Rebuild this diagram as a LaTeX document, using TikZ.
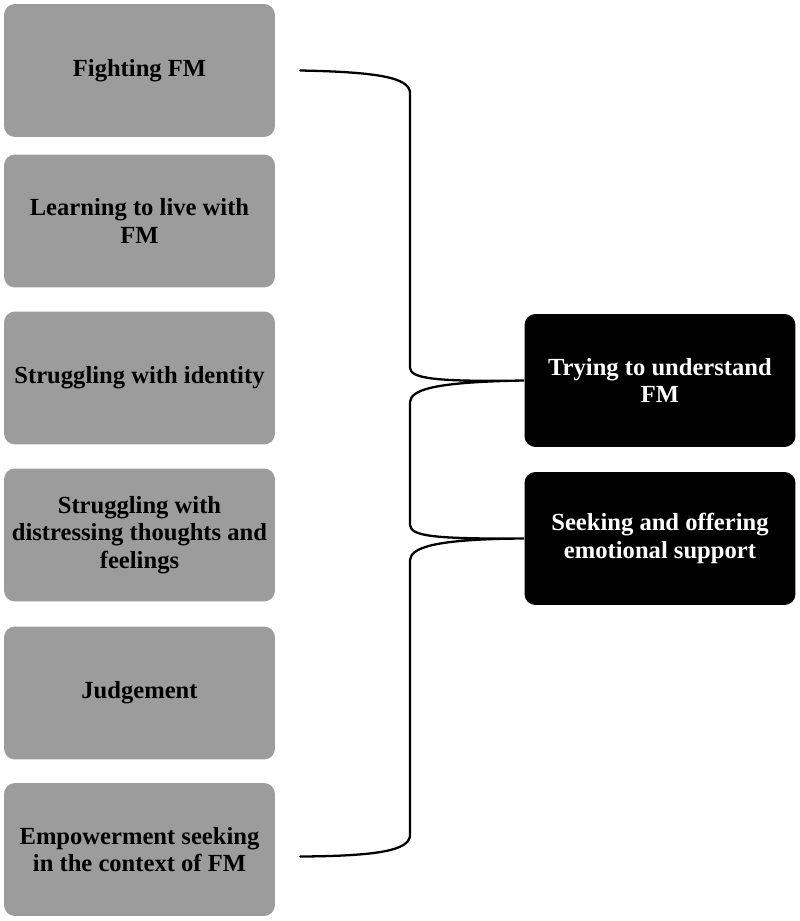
\documentclass[tikz,border=0pt]{standalone}
\usepackage{fontspec}
\setmainfont{Liberation Serif}
\usetikzlibrary{positioning, calc}

\begin{document}
\begin{tikzpicture}[
			x=0.02cm, y=-0.02cm,
			theme/.style={rectangle, rounded corners=0.22cm, fill=gray!78, minimum width=5.42cm, minimum height=2.66cm, align=center, font=\fontsize{14}{15.5}\selectfont\bfseries, text=black},
			overarch/.style={theme, fill=black, text=white},
			brace/.style={line width=1.3pt, black, line cap=round}
			]
			
			\useasboundingbox (0,0) rectangle (800,921);
			
			% --- TEMAS (IZQUIERDA) ---
			\foreach \i/\y/\txt in {1/70.5/{Fighting FM}, 2/221/{Learning to live with\\FM}, 3/378/{Struggling with identity}, 4/535/{Struggling with\\distressing thoughts and\\feelings}, 5/693/{Judgement}, 6/849.5/{Empowerment seeking\\in the context of FM}}
			\node[theme] (l-\i) at (139.5, \y) {\txt};
			
			% --- TEMAS GLOBALES (DERECHA) ---
			\node[overarch] (r-1) at (660, 380.5) {Trying to understand\\FM};
			\node[overarch] (r-2) at (660, 538.5) {Seeking and offering\\emotional support};
			
			% Llave
			\coordinate (top) at ($(l-1.east)+(25,0)$);
			\coordinate (bot) at ($(l-6.east)+(25,7)$);
			\draw[brace] (top) .. controls (380,72) and (408,78) .. (410,92)
				-- (410,368) .. controls (411,378) and (432,382) .. (r-1.west)
				.. controls (432,382) and (411,390) .. (410,402)
				-- (410,525) .. controls (411,536) and (432,539) .. (r-2.west)
				.. controls (432,539) and (411,548) .. (410,560)
				-- (410,836) .. controls (408,850) and (380,856) .. (bot);
			
		\end{tikzpicture}
\end{document}
